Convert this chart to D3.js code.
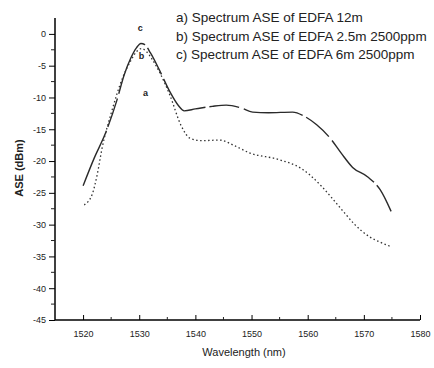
<!DOCTYPE html>
<html>
<head>
<meta charset="utf-8">
<script src="https://cdn.jsdelivr.net/npm/d3@7"></script>
<style>
  body { margin: 0; background: #fff; }
  text { font-family: "Liberation Sans", Arial, sans-serif; fill: #222; }
</style>
</head>
<body>
<script>
// upper curve (EDFA 12m, long dashes)
var upperWl  = [1520, 1522, 1524, 1526, 1527.3, 1528.5, 1529.5, 1530.3, 1531, 1532, 1533.6, 1535.4, 1537, 1538, 1540, 1543, 1545.5, 1548, 1550.2, 1553, 1557.3, 1559.5, 1561.6, 1564, 1566, 1568, 1570.7, 1572.9, 1575];
var upperAse = [-23.9, -19.5, -15.6, -10.5, -6.5, -3.8, -2.2, -1.5, -1.7, -3, -5.7, -9, -11.3, -12.1, -11.8, -11.4, -11.2, -11.6, -12.3, -12.4, -12.3, -13.0, -14.3, -16.4, -18.8, -21, -22.5, -24.5, -28.2];

// lower curve (dotted)
var lowerWl  = [1520.2, 1521.6, 1522.5, 1523.4, 1525, 1527, 1528.5, 1529.5, 1530.4, 1531.3, 1532.3, 1533.6, 1535.4, 1537.5, 1539, 1541, 1544.3, 1547, 1549.6, 1555, 1558.9, 1560.4, 1562.5, 1564.3, 1566.6, 1568.4, 1571, 1573, 1575];
var lowerAse = [-26.9, -25.3, -22.2, -17.9, -12.5, -7, -4.2, -2.8, -2.3, -2.8, -4, -6, -9.5, -14.5, -16.4, -16.8, -16.7, -17.6, -18.7, -19.8, -21.2, -22.2, -24, -25.8, -28.2, -30, -31.9, -32.8, -33.5];

var legendLines = [
  "a) Spectrum ASE of EDFA 12m",
  "b) Spectrum ASE of EDFA 2.5m 2500ppm",
  "c) Spectrum ASE of EDFA 6m 2500ppm"
];
var curveTags = [
  { t: "c", wl: 1530.2, v: 0.4 },
  { t: "b", wl: 1530.4, v: -3.9 },
  { t: "a", wl: 1531.1, v: -9.8 }
];
var xTicks = [1520, 1530, 1540, 1550, 1560, 1570, 1580];
var yTicks = [0, -5, -10, -15, -20, -25, -30, -35, -40, -45];

var width = 434, height = 368;
var svg = d3.select("body").append("svg")
    .attr("width", width)
    .attr("height", height);

var x = d3.scaleLinear().domain([1515, 1580]).range([55, 420]);
var y = d3.scaleLinear().domain([-45, 2.5]).range([320, 18]);

// y axis, ticks pointing out
var yAxis = d3.axisLeft(y).tickValues(yTicks).tickSize(6).tickPadding(3)
    .tickFormat(function(d) { return d === 0 ? "0" : "-" + Math.abs(d); });
var gy = svg.append("g").attr("transform", "translate(55,0)").call(yAxis);
gy.select(".domain").attr("d", "M0," + y(2.5) + "V" + y(-45)).attr("stroke-width", 1.5);
gy.selectAll("text").style("font-size", "9px");
// minor y ticks
svg.append("g").selectAll("line")
    .data(d3.range(-42.5, 2.5, 5))
    .enter().append("line")
    .attr("x1", 51).attr("x2", 55)
    .attr("y1", function(d) { return y(d); })
    .attr("y2", function(d) { return y(d); })
    .attr("stroke", "#222");

// x axis, ticks pointing in
var xAxis = d3.axisBottom(x).tickValues(xTicks).tickSize(-5).tickPadding(11)
    .tickFormat(d3.format("d"));
var gx = svg.append("g").attr("transform", "translate(0,320)").call(xAxis);
gx.select(".domain").attr("d", "M55,0H420").attr("stroke-width", 1.5);
gx.selectAll("text").style("font-size", "9px");
svg.append("g").selectAll("line")
    .data(d3.range(1525, 1580, 10))
    .enter().append("line")
    .attr("x1", function(d) { return x(d); })
    .attr("x2", function(d) { return x(d); })
    .attr("y1", 320).attr("y2", 317)
    .attr("stroke", "#222");

// axis titles
svg.append("text")
    .attr("transform", "translate(23,168) rotate(-90)")
    .attr("text-anchor", "middle")
    .style("font-size", "11px")
    .style("font-weight", "bold")
    .text("ASE (dBm)");
svg.append("text")
    .attr("x", 244).attr("y", 356)
    .attr("text-anchor", "middle")
    .style("font-size", "11px")
    .text("Wavelength (nm)");

var line = d3.line().curve(d3.curveMonotoneX);

svg.append("path")
    .datum(d3.zip(upperWl, upperAse))
    .attr("d", line.x(function(d) { return x(d[0]); }).y(function(d) { return y(d[1]); }))
    .attr("fill", "none")
    .attr("stroke", "#2a2a2a")
    .attr("stroke-width", 1.4)
    .attr("stroke-dasharray", "60,4,30,5");

svg.append("path")
    .datum(d3.zip(lowerWl, lowerAse))
    .attr("d", line)
    .attr("fill", "none")
    .attr("stroke", "#333")
    .attr("stroke-width", 1.3)
    .attr("stroke-dasharray", "1.5,2.5");

// curve tags
svg.append("g").selectAll("text")
    .data(curveTags)
    .enter().append("text")
    .attr("x", function(d) { return x(d.wl); })
    .attr("y", function(d) { return y(d.v); })
    .attr("text-anchor", "middle")
    .style("font-size", "9px")
    .style("font-weight", "bold")
    .text(function(d) { return d.t; });

// legend text
svg.append("g").selectAll("text")
    .data(legendLines)
    .enter().append("text")
    .attr("x", 176)
    .attr("y", function(d, i) { return 22 + i * 18.5; })
    .style("font-size", "13.5px")
    .text(function(d) { return d; });
</script>
</body>
</html>
